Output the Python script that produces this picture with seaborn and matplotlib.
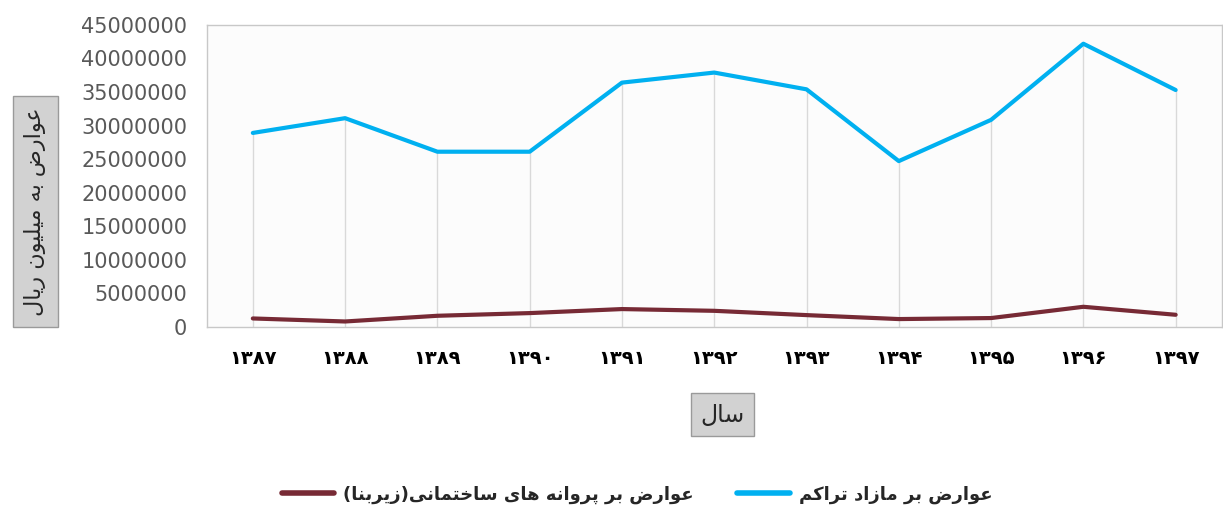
import matplotlib
matplotlib.use("Agg")
import matplotlib.pyplot as plt
from matplotlib.lines import Line2D
import seaborn as sns
import pandas as pd

years = ["۱۳۸۷", "۱۳۸۸", "۱۳۸۹", "۱۳۹۰", "۱۳۹۱", "۱۳۹۲", "۱۳۹۳", "۱۳۹۴", "۱۳۹۵", "۱۳۹۶", "۱۳۹۷"]
density_fees = [28900000, 31100000, 26100000, 26100000, 36400000, 37900000,
                35400000, 24700000, 30850000, 42200000, 35300000]
permit_fees = [1240000, 790000, 1640000, 2040000, 2640000, 2380000,
               1740000, 1150000, 1300000, 2980000, 1790000]
y_ticks = [0, 5000000, 10000000, 15000000, 20000000, 25000000,
           30000000, 35000000, 40000000, 45000000]

name_density = "عوارض بر مازاد تراکم"
name_permit = "عوارض بر پروانه های ساختمانی(زیربنا)"
y_title = "عوارض به میلیون ریال"
x_title = "سال"

# matplotlib has no arabic shaping, so pick presentation forms by hand
FORMS = {
    'ا': ('\uFE8D', '\uFE8E', None, None),
    'ب': ('\uFE8F', '\uFE90', '\uFE91', '\uFE92'),
    'پ': ('\uFB56', '\uFB57', '\uFB58', '\uFB59'),
    'ت': ('\uFE95', '\uFE96', '\uFE97', '\uFE98'),
    'خ': ('\uFEA5', '\uFEA6', '\uFEA7', '\uFEA8'),
    'د': ('\uFEA9', '\uFEAA', None, None),
    'ر': ('\uFEAD', '\uFEAE', None, None),
    'ز': ('\uFEAF', '\uFEB0', None, None),
    'س': ('\uFEB1', '\uFEB2', '\uFEB3', '\uFEB4'),
    'ض': ('\uFEBD', '\uFEBE', '\uFEBF', '\uFEC0'),
    'ع': ('\uFEC9', '\uFECA', '\uFECB', '\uFECC'),
    'ک': ('\uFB8E', '\uFB8F', '\uFB90', '\uFB91'),
    'ل': ('\uFEDD', '\uFEDE', '\uFEDF', '\uFEE0'),
    'م': ('\uFEE1', '\uFEE2', '\uFEE3', '\uFEE4'),
    'ن': ('\uFEE5', '\uFEE6', '\uFEE7', '\uFEE8'),
    'ه': ('\uFEE9', '\uFEEA', '\uFEEB', '\uFEEC'),
    'و': ('\uFEED', '\uFEEE', None, None),
    'ی': ('\uFBFC', '\uFBFD', '\uFBFE', '\uFBFF'),
}


def shape(text):
    out = []
    for i, ch in enumerate(text):
        if ch not in FORMS:
            out.append(ch)
            continue
        iso, fin, ini, med = FORMS[ch]
        prev = text[i - 1] if i > 0 else None
        nxt = text[i + 1] if i + 1 < len(text) else None
        join_prev = prev in FORMS and FORMS[prev][2] is not None
        join_next = nxt in FORMS and ini is not None
        if join_prev and join_next:
            out.append(med)
        elif join_prev:
            out.append(fin)
        elif join_next:
            out.append(ini)
        else:
            out.append(iso)
    return ''.join(out)[::-1].translate(str.maketrans('()', ')('))


blue = "#00B0F0"
brown = "#772A35"

df = pd.DataFrame({
    "year": years * 2,
    "value": density_fees + permit_fees,
    "series": [name_density] * len(years) + [name_permit] * len(years),
})

sns.set_style("white")
plt.rcParams['font.family'] = ['DejaVu Sans']

fig = plt.figure(figsize=(12.23, 5.09), dpi=100)
ax = fig.add_axes([0.169, 0.358, 0.83, 0.593])
ax.set_facecolor("#fcfcfc")

# drop lines from the highest series down to the axis
xs = list(range(len(years)))
ax.vlines(xs, 0, [max(a, b) for a, b in zip(density_fees, permit_fees)],
          color="#d9d9d9", linewidth=1, zorder=1)

sns.lineplot(data=df, x="year", y="value", hue="series", sort=False,
             palette={name_density: blue, name_permit: brown},
             linewidth=3, ax=ax, legend=False, zorder=3)

ax.set_xlim(-0.5, len(years) - 0.5)
ax.set_ylim(0, 45000000)
ax.set_yticks(y_ticks)
ax.set_yticklabels([str(v) for v in y_ticks], color="#595959", fontsize=15)
ax.set_xticks(xs)
ax.set_xticklabels(years, fontsize=14, fontweight="bold", color="black")
ax.tick_params(axis="y", length=0, pad=14)
ax.tick_params(axis="x", length=0, pad=16)
ax.set_xlabel("")
ax.set_ylabel("")
for side in ax.spines.values():
    side.set_color("#c8c8c8")
    side.set_linewidth(1)

fig.text(0.029, 0.585, shape(y_title), rotation=90, ha="center", va="center",
         fontsize=16, bbox=dict(boxstyle="square,pad=0.5", facecolor="#d2d2d2",
                                edgecolor="#9a9a9a", linewidth=1))
fig.text(0.591, 0.185, shape(x_title), ha="center", va="center",
         fontsize=17, bbox=dict(boxstyle="square,pad=0.4", facecolor="#d2d2d2",
                                edgecolor="#9a9a9a", linewidth=1))

handles = [Line2D([], [], color=brown, linewidth=4),
           Line2D([], [], color=blue, linewidth=4)]
fig.legend(handles, [shape(name_permit), shape(name_density)], loc="center",
           bbox_to_anchor=(0.521, 0.028), ncol=2, frameon=False,
           prop={"size": 13, "weight": "bold"}, handlelength=2.9,
           columnspacing=2.4, handletextpad=0.5)

fig.savefig("out.png", dpi=100)
